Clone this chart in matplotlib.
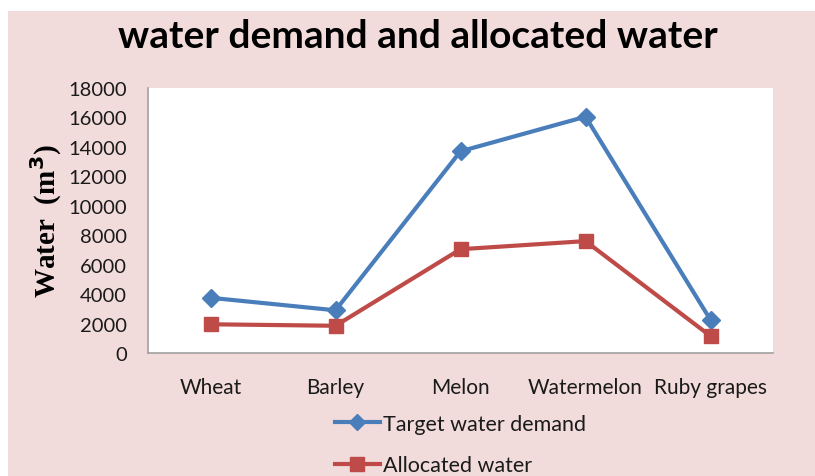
import matplotlib
matplotlib.use("Agg")
import matplotlib.pyplot as plt
from matplotlib.patches import Rectangle
from matplotlib.lines import Line2D

categories = ["Wheat", "Barley", "Melon", "Watermelon", "Ruby grapes"]
target_demand = [3750, 2900, 13700, 16050, 2250]
allocated = [1950, 1850, 7050, 7600, 1150]
yticks = [0, 2000, 4000, 6000, 8000, 10000, 12000, 14000, 16000, 18000]

W, H = 815, 477
fig = plt.figure(figsize=(W / 100, H / 100), dpi=100)
fig.patch.set_facecolor("white")
pink = "#F2DCDB"
fig.patches.append(Rectangle((8 / W, 0), 1 - 8 / W, 1 - 12 / H, transform=fig.transFigure,
                             facecolor=pink, edgecolor="none", zorder=-10))

left, right, top, bottom = 148, 773, 89, 354
ax = fig.add_axes([left / W, 1 - bottom / H, (right - left) / W, (bottom - top) / H])
ax.set_facecolor("white")

x = list(range(len(categories)))
blue = "#4A7EBB"
red = "#BE4B48"
ax.plot(x, target_demand, color=blue, lw=3, marker="D", ms=9, label="Target water demand")
ax.plot(x, allocated, color=red, lw=3, marker="s", ms=10, label="Allocated water")

ax.set_xlim(-0.5, len(categories) - 0.5)
ax.set_ylim(0, 18000)
ax.set_yticks(yticks)
ax.set_yticklabels([str(v) for v in yticks], fontfamily="Lato", fontsize=14.5, color="#1a1a1a")
ax.set_xticks(x)
ax.set_xticklabels(categories, fontfamily="Lato", fontsize=15, color="#1a1a1a")
ax.tick_params(axis="both", length=0)
ax.tick_params(axis="x", pad=17)
ax.tick_params(axis="y", pad=15)
for s in ["top", "right"]:
    ax.spines[s].set_visible(False)
for s in ["left", "bottom"]:
    ax.spines[s].set_color("#A0A0A0")
    ax.spines[s].set_linewidth(1.2)

ax.set_ylabel("Water  (m$^{\\mathbf{3}}$)", fontfamily="Liberation Serif", fontweight="bold",
              fontsize=21, labelpad=3)

fig.text(417.5 / W, 1 - 37 / H, "water demand and allocated water", ha="center", va="center",
         fontfamily="Lato", fontweight="bold", fontsize=28, color="black")

handles = [Line2D([0], [0], color=blue, lw=3, marker="D", ms=8),
           Line2D([0], [0], color=red, lw=3, marker="s", ms=10)]
fig.legend(handles, ["Target water demand", "Allocated water"], loc="upper left",
           bbox_to_anchor=(326 / W, 1 - 406 / H), frameon=False, ncol=1,
           prop={"family": "Lato", "size": 15.5}, labelspacing=1.0, handlelength=2.1,
           handletextpad=0.14, borderaxespad=0, labelcolor="#1a1a1a")

fig.savefig("out.png", dpi=100, facecolor=fig.get_facecolor())
